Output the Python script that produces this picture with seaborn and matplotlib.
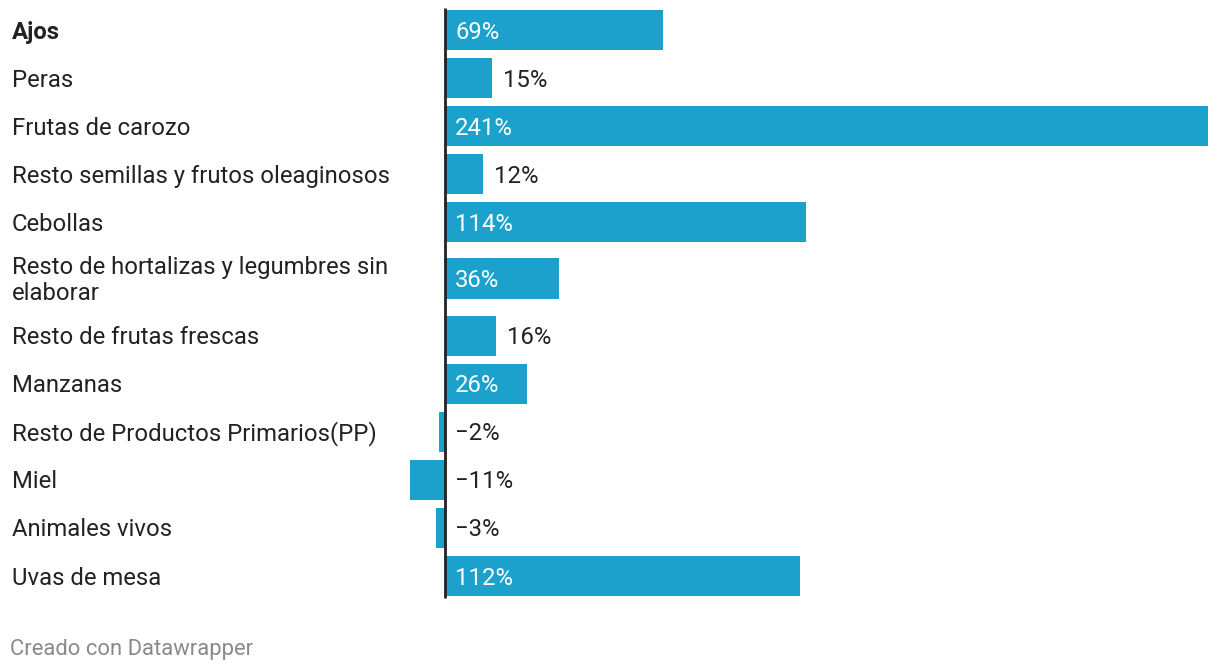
import matplotlib
matplotlib.use("Agg")
import matplotlib.pyplot as plt
import matplotlib.transforms as mtransforms
import seaborn as sns
import pandas as pd

categories = [
    "Ajos",
    "Peras",
    "Frutas de carozo",
    "Resto semillas y frutos oleaginosos",
    "Cebollas",
    "Resto de hortalizas y legumbres sin\nelaborar",
    "Resto de frutas frescas",
    "Manzanas",
    "Resto de Productos Primarios(PP)",
    "Miel",
    "Animales vivos",
    "Uvas de mesa",
]
values = [69, 15, 241, 12, 114, 36, 16, 26, -2, -11, -3, 112]

# vertical layout: two-line labels take extra room
positions = []
p = 0.0
for i, c in enumerate(categories):
    if i > 0:
        prev_two = "\n" in categories[i - 1]
        cur_two = "\n" in c
        p += 1.0 + (0.19 if prev_two else 0) + (0.17 if cur_two else 0)
    positions.append(p)

df = pd.DataFrame({"cat": categories, "value": values, "pos": positions})

sns.set_theme(style="white")
plt.rcParams["font.family"] = ["Roboto", "DejaVu Sans"]

W, H = 1220, 672
fig = plt.figure(figsize=(W / 100, H / 100), dpi=100)
ax_left_px, ax_right_px = 400, 1210
ax_top_px, ax_bot_px = 6, 600
ax = fig.add_axes([ax_left_px / W, 1 - ax_bot_px / H,
                   (ax_right_px - ax_left_px) / W, (ax_bot_px - ax_top_px) / H])

bar_color = "#1ba1cc"
sns.barplot(data=df, x="value", y="pos", orient="h", native_scale=True,
            color=bar_color, saturation=1, width=0.835, errorbar=None, ax=ax,
            edgecolor="none", linewidth=0)

zero_px = 445
bar_end_px = 1208
ppu = (bar_end_px - zero_px) / max(values)
ax.set_xlim(-(zero_px - ax_left_px) / ppu, (ax_right_px - zero_px) / ppu)
ax.set_ylim(positions[-1] + 0.5, -0.5)
ax.axis("off")

ax.plot([0, 0], [-0.45, positions[-1] + 0.46], color="#222222", lw=2,
        solid_capstyle="butt", zorder=5)

fs = 17.2
text_dark = "#222222"
down = mtransforms.ScaledTranslation(0, -1.5 / 72, fig.dpi_scale_trans)

# category labels
trans_lab = mtransforms.blended_transform_factory(fig.transFigure, ax.transData) + down
for c, y in zip(categories, positions):
    ax.text(12 / W, y, c, transform=trans_lab, ha="left", va="center",
            fontsize=fs, color=text_dark,
            fontweight="bold" if c == "Ajos" else "normal",
            linespacing=1.2)

# value labels
for v, y in zip(values, positions):
    txt = f"{v}%".replace("-", "\u2212")
    if v >= 20:
        x0, dx, col = 0, 7.4, "white"
    elif v > 0:
        x0, dx, col = v, 7.9, text_dark
    else:
        x0, dx, col = 0, 7.4, text_dark
    ax.annotate(txt, (x0, y), xytext=(dx, -1.5), textcoords="offset points",
                ha="left", va="center", fontsize=fs, color=col)

fig.text(10 / W, 1 - 649 / H, "Creado con Datawrapper", ha="left", va="center",
         fontsize=15.8, color="#8a8a8a")

fig.savefig("out.png", dpi=100, facecolor="white")
